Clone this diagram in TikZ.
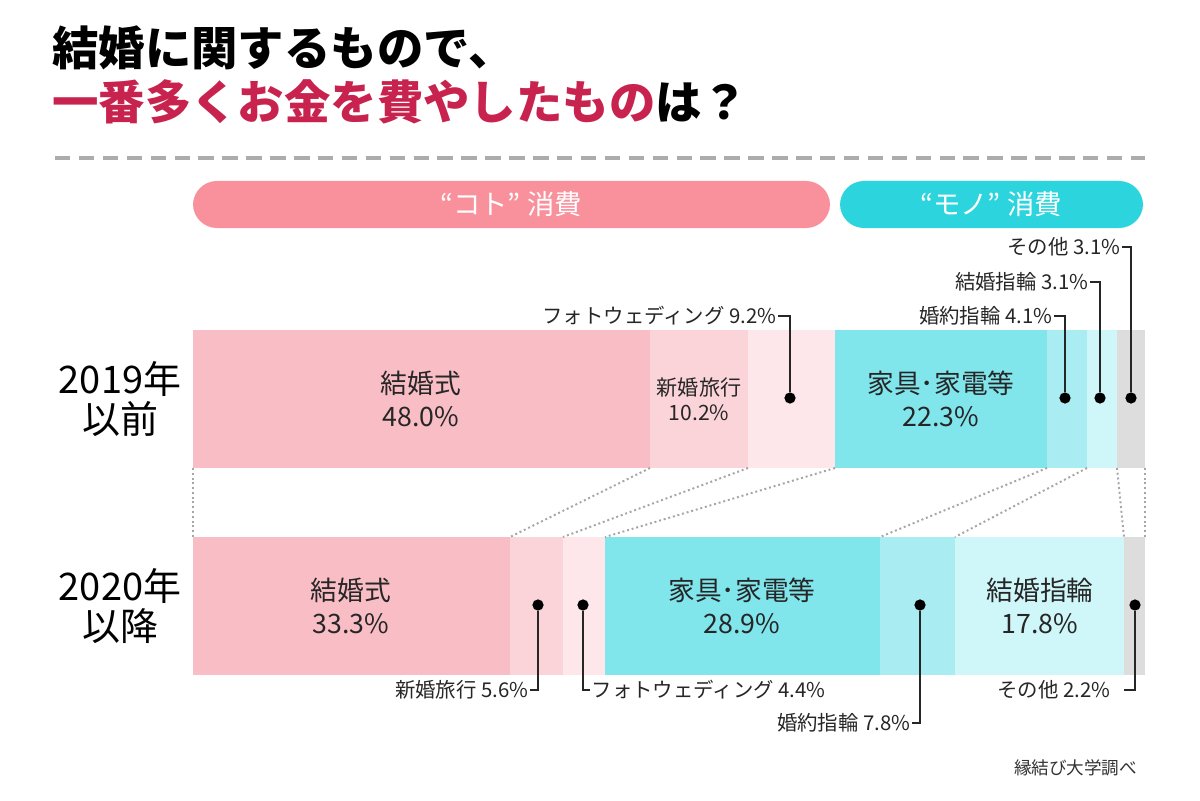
\documentclass[tikz,border=0pt]{standalone}
\usepackage{fontspec}
\setmainfont{Noto Sans CJK JP}

\definecolor{titlered}{HTML}{C8234E}
\definecolor{kotopill}{HTML}{F9919C}
\definecolor{monopill}{HTML}{2CD5DE}
\definecolor{shiki}{HTML}{F9BDC5}
\definecolor{ryoko}{HTML}{FBD4D9}
\definecolor{photo}{HTML}{FDE7EA}
\definecolor{kagu}{HTML}{80E6EC}
\definecolor{konyaku}{HTML}{A9ECF1}
\definecolor{kekkon}{HTML}{CFF6F8}
\definecolor{sonota}{HTML}{DDDDDD}

\tikzset{
  pill/.style={text=white, font=\fontsize{19.5}{22}\selectfont},
  barlabel/.style={align=center, font=\fontsize{19}{23}\selectfont, text=black!85},
  smalllabel/.style={align=center, font=\fontsize{15}{18}\selectfont, text=black!85},
  callout/.style={font=\fontsize{14.5}{17}\selectfont, text=black!85, inner sep=1pt},
  yearlabel/.style={align=center, font=\fontsize{27}{29}\selectfont},
  dot/.style={circle, fill=black, inner sep=0pt, minimum size=8},
  calline/.style={line width=1.3pt, black!85},
  dotline/.style={gray!70, line width=1.4pt, dotted}
}

\begin{document}
\begin{tikzpicture}[x=0.025cm, y=-0.025cm]
  \useasboundingbox (0,0) rectangle (1200,800);

  % title
  \node[anchor=west, inner sep=0pt, font=\bfseries\fontsize{33}{36}\selectfont] (title1) at (52,48) {結婚に関するもので、};
  \node[anchor=west, inner sep=0pt, font=\bfseries\fontsize{33}{36}\selectfont] (title2) at (52,102) {\textcolor{titlered}{一番多くお金を費やしたもの}は？};
  \draw[gray!65, line width=2.2pt, dash pattern=on 11pt off 6pt] (55,158) -- (1145,158);

  % pills
  \fill[kotopill, rounded corners=17pt] (193,181) rectangle (830,228);
  \node[pill] (koto) at (511,204) {“コト” 消費};
  \fill[monopill, rounded corners=17pt] (840,181) rectangle (1143,228);
  \node[pill] (mono) at (991,204) {“モノ” 消費};

  % boundaries of the two bars
  \coordinate (a0) at (193,468);  \coordinate (b0) at (193,537);
  \coordinate (a1) at (650,468);  \coordinate (b1) at (510,537);
  \coordinate (a2) at (748,468);  \coordinate (b2) at (563,537);
  \coordinate (a3) at (835,468);  \coordinate (b3) at (605,537);
  \coordinate (a4) at (1047,468); \coordinate (b4) at (880,537);
  \coordinate (a5) at (1087,468); \coordinate (b5) at (955,537);
  \coordinate (a6) at (1117,468); \coordinate (b6) at (1124,537);
  \coordinate (a7) at (1145,468); \coordinate (b7) at (1145,537);

  % 2019 bar
  \fill[shiki]   (193,330)  rectangle (a1);
  \fill[ryoko]   (650,330)  rectangle (a2);
  \fill[photo]   (748,330)  rectangle (a3);
  \fill[kagu]    (835,330)  rectangle (a4);
  \fill[konyaku] (1047,330) rectangle (a5);
  \fill[kekkon]  (1087,330) rectangle (a6);
  \fill[sonota]  (1117,330) rectangle (a7);

  % 2020 bar
  \fill[shiki]   (b0) rectangle (510,675);
  \fill[ryoko]   (b1) rectangle (563,675);
  \fill[photo]   (b2) rectangle (605,675);
  \fill[kagu]    (b3) rectangle (880,675);
  \fill[konyaku] (b4) rectangle (955,675);
  \fill[kekkon]  (b5) rectangle (1124,675);
  \fill[sonota]  (b6) rectangle (1145,675);

  \foreach \i in {0,...,7}
    \draw[dotline] (a\i) -- (b\i);

  % years
  \node[yearlabel] (y2019) at (120,399) {2019年\\以前};
  \node[yearlabel] (y2020) at (120,606) {2020年\\以降};

  % labels inside the bars
  \node[barlabel] (shiki19) at (421,399) {結婚式\\48.0\%};
  \node[smalllabel] (ryoko19) at (699,399) {新婚旅行\\10.2\%};
  \node[barlabel] (kagu19) at (941,399) {家具･家電等\\22.3\%};
  \node[barlabel] (shiki20) at (351,606) {結婚式\\33.3\%};
  \node[barlabel] (kagu20) at (742,606) {家具･家電等\\28.9\%};
  \node[barlabel] (kekkon20) at (1040,606) {結婚指輪\\17.8\%};

  % callouts 2019
  \node[dot] (d19photo) at (790,398) {};
  \node[callout, anchor=east] (l19photo) at (778,316) {フォトウェディング 9.2\%};
  \draw[calline] (l19photo.east) -| (d19photo);

  \node[dot] (d19konyaku) at (1065,398) {};
  \node[callout, anchor=east] (l19konyaku) at (1054,316) {婚約指輪 4.1\%};
  \draw[calline] (l19konyaku.east) -| (d19konyaku);

  \node[dot] (d19kekkon) at (1100,398) {};
  \node[callout, anchor=east] (l19kekkon) at (1090,282) {結婚指輪 3.1\%};
  \draw[calline] (l19kekkon.east) -| (d19kekkon);

  \node[dot] (d19sonota) at (1131,398) {};
  \node[callout, anchor=east] (l19sonota) at (1122,247) {その他 3.1\%};
  \draw[calline] (l19sonota.east) -| (d19sonota);

  % callouts 2020
  \node[dot] (d20ryoko) at (538,605) {};
  \node[callout, anchor=east] (l20ryoko) at (530,690) {新婚旅行 5.6\%};
  \draw[calline] (d20ryoko) |- (l20ryoko.east);

  \node[dot] (d20photo) at (583,605) {};
  \node[callout, anchor=west] (l20photo) at (590,690) {フォトウェディング 4.4\%};
  \draw[calline] (d20photo) |- (l20photo.west);

  \node[dot] (d20konyaku) at (920,605) {};
  \node[callout, anchor=east] (l20konyaku) at (912,723) {婚約指輪 7.8\%};
  \draw[calline] (d20konyaku) |- (l20konyaku.east);

  \node[dot] (d20sonota) at (1135,605) {};
  \node[callout, anchor=east] (l20sonota) at (1112,690) {その他 2.2\%};
  \coordinate (t20sonota) at (1124,690);
  \draw[calline] (d20sonota) |- (t20sonota);

  % source
  \node[anchor=east, font=\fontsize{12.5}{15}\selectfont, text=black!80] (source) at (1142,768) {縁結び大学調べ};
\end{tikzpicture}
\end{document}
